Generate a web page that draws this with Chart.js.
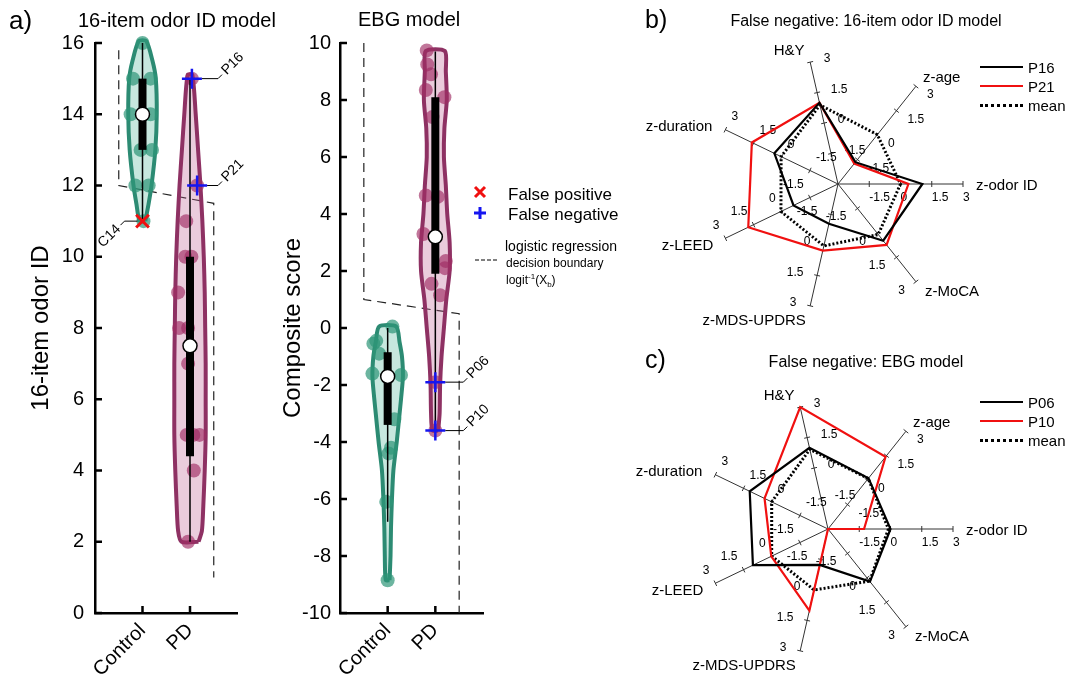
<!DOCTYPE html>
<html>
<head>
<meta charset="utf-8">
<title>Odor ID and EBG models</title>
<script src="https://cdn.jsdelivr.net/npm/chart.js@4.4.1/dist/chart.umd.min.js"></script>
<style>
  body { margin: 0; background: #fff; }
  #fig { position: relative; width: 1065px; height: 688px; overflow: hidden; font-family: 'Liberation Sans', Arial, sans-serif; color: #000; }
  #fig canvas { position: absolute; }
  .txt { position: absolute; white-space: nowrap; line-height: 1; }
  .key { position: absolute; height: 0; width: 43px; left: 980px; }
</style>
</head>
<body>
<div id="fig">
  <canvas id="odorChart" width="250" height="688" style="left:0;top:0"></canvas>
  <canvas id="ebgChart" width="250" height="688" style="left:250px;top:0"></canvas>
  <canvas id="radarB" width="445" height="340" style="left:620px;top:0"></canvas>
  <canvas id="radarC" width="445" height="348" style="left:620px;top:340px"></canvas>

  <div class="txt" style="left:9px;top:7px;font-size:26px">a)</div>
  <div class="txt" style="left:78px;top:10px;font-size:20px">16-item odor ID model</div>
  <div class="txt" style="left:358px;top:9px;font-size:20px">EBG model</div>

  <svg style="position:absolute;left:470px;top:182px" width="30" height="85">
    <path d="M5 5 L15 15 M15 5 L5 15" stroke="#f01010" stroke-width="3"/>
    <path d="M4 31 L16 31 M10 25 L10 37" stroke="#1515f0" stroke-width="3"/>
    <path d="M5 78 L27 78" stroke="#000" stroke-width="1" stroke-dasharray="4,2"/>
  </svg>
  <div class="txt" style="left:508px;top:186px;font-size:17px">False positive</div>
  <div class="txt" style="left:508px;top:206px;font-size:17px">False negative</div>
  <div class="txt" style="left:505px;top:239px;font-size:14px">logistic regression</div>
  <div class="txt" style="left:506px;top:257px;font-size:12px">decision boundary</div>
  <div class="txt" style="left:506px;top:273px;font-size:12px">logit<sup style="font-size:8px">-1</sup>(X<sub style="font-size:8px">b</sub>)</div>

  <div class="txt" style="left:645px;top:7px;font-size:25px">b)</div>
  <div class="txt" style="left:866px;top:13px;font-size:16px;transform:translateX(-50%)">False negative: 16-item odor ID model</div>
  <div class="key" style="top:66px;border-top:2.5px solid #000"></div>
  <div class="key" style="top:85px;border-top:2.5px solid #f01010"></div>
  <div class="key" style="top:104px;border-top:3px dotted #000"></div>
  <div class="txt" style="left:1028px;top:60px;font-size:15px">P16</div>
  <div class="txt" style="left:1028px;top:79px;font-size:15px">P21</div>
  <div class="txt" style="left:1028px;top:98px;font-size:15px">mean</div>

  <div class="txt" style="left:645px;top:347px;font-size:25px">c)</div>
  <div class="txt" style="left:866px;top:354px;font-size:16px;transform:translateX(-50%)">False negative: EBG model</div>
  <div class="key" style="top:401px;border-top:2.5px solid #000"></div>
  <div class="key" style="top:420px;border-top:2.5px solid #f01010"></div>
  <div class="key" style="top:439px;border-top:3px dotted #000"></div>
  <div class="txt" style="left:1028px;top:395px;font-size:15px">P06</div>
  <div class="txt" style="left:1028px;top:414px;font-size:15px">P10</div>
  <div class="txt" style="left:1028px;top:433px;font-size:15px">mean</div>
</div>

<script>
// ---- data ----
const groups = ['Control', 'PD'];

// 16-item odor ID panel
const odorCtrlPts = [16, 15, 15, 14, 14, 13, 13, 12, 12, 11];
const odorCtrlJit = [0, -0.2, 0.17, -0.25, 0.17, -0.04, 0.2, -0.15, 0.13, 0.02];
const odorPdPts = [15, 12, 11, 10, 10, 9, 8, 8, 7, 5, 5, 5, 4, 2];
const odorPdJit = [0.04, 0.15, -0.08, -0.1, 0.03, -0.25, -0.23, -0.04, -0.04, -0.07, 0.07, 0.2, 0.08, -0.04];
const odorCtrlShapeY = [11, 11.5, 12, 13, 14, 15, 15.5, 16.05];
const odorCtrlShapeW = [0.06, 0.13, 0.19, 0.27, 0.3, 0.28, 0.21, 0.08];
const odorPdShapeY = [2, 2.3, 3, 4, 5, 6, 7, 8, 9, 10, 11, 12, 13, 14, 15.1];
const odorPdShapeW = [0.18, 0.25, 0.28, 0.31, 0.33, 0.33, 0.33, 0.32, 0.31, 0.29, 0.26, 0.22, 0.17, 0.12, 0.05];
// [whisker low, q1, median, q3, whisker high]
const odorCtrlBox = [11, 13, 14, 15, 16];
const odorPdBox = [2, 4.4, 7.5, 10, 15];
const odorBoundX = [0.5, 0.5, 2.5, 2.5];
const odorBoundY = [15.8, 12, 11.5, 1];
const odorFpLabels = ['C14'];
const odorFpX = [1.0];
const odorFpY = [11];
const odorFnLabels = ['P16', 'P21'];
const odorFnX = [2.04, 2.15];
const odorFnY = [15, 12];

// EBG composite score panel
const ebgCtrlPts = [0.05, -0.45, -0.55, -0.9, -1.6, -1.65, -1.7, -3.2, -4.2, -4.4, -6.1, -8.85];
const ebgCtrlJit = [0.1, -0.24, -0.3, -0.18, -0.32, 0.28, 0.0, 0.14, 0.07, 0.02, -0.03, 0];
const ebgPdPts = [9.74, 9.25, 8.9, 8.35, 8.1, 7.4, 4.65, 4.6, 3.3, 2.35, 2.1, 1.55, 1.15, -1.9, -3.6];
const ebgPdJit = [-0.18, -0.17, -0.09, -0.2, 0.19, -0.06, -0.2, 0.05, -0.25, 0.22, 0.2, -0.08, 0.1, 0, 0];
const ebgCtrlShapeY = [-8.85, -8, -7, -6, -5, -4, -3, -2.5, -1.7, -1, -0.5, 0.05];
const ebgCtrlShapeW = [0.04, 0.06, 0.07, 0.09, 0.12, 0.19, 0.25, 0.28, 0.32, 0.3, 0.25, 0.18];
const ebgPdShapeY = [-3.6, -3, -2, -1, 0, 1, 2, 3, 4, 5, 6, 7, 8, 9, 9.72];
const ebgPdShapeW = [0.06, 0.09, 0.1, 0.13, 0.18, 0.23, 0.3, 0.3, 0.25, 0.22, 0.18, 0.19, 0.24, 0.22, 0.2];
const ebgCtrlBox = [-6.8, -3.4, -1.7, -0.85, 0];
const ebgPdBox = [-3.6, 1.9, 3.2, 8.1, 9.7];
const ebgBoundX = [0.5, 0.5, 2.5, 2.5];
const ebgBoundY = [10, 1.0, 0.5, -10];
const ebgFpLabels = [];
const ebgFpX = [];
const ebgFpY = [];
const ebgFnLabels = ['P06', 'P10'];
const ebgFnX = [2, 2];
const ebgFnY = [-1.9, -3.6];

// radar panels (axes clockwise from z-odor ID)
const radarAxes = ['z-odor ID', 'z-MoCA', 'z-MDS-UPDRS', 'z-LEED', 'z-duration', 'H&Y', 'z-age'];
const radarTicks = [-1.5, 0, 1.5, 3];
const bP16 = [1.05, 0.48, -1.04, -0.63, 0.39, 1.0, -1.66];
const bP21 = [0.38, 0.74, 0.28, 1.78, 1.59, 1.0, -1.75];
const bMean = [0.0, 0.1, 0.05, 0.04, 0.03, 0.89, 0.03];
const cP06 = [0.0, 0.23, -1.23, 1.0, 1.17, 1.0, 0.12];
const cP10 = [-1.27, -3, 1.02, 0.02, 0.38, 3.0, 1.43];
const cMean = [-0.1, 0.2, 0.0, 0.0, 0.0, 0.92, 0.1];

// ---- style ----
const FONT = "'Liberation Sans', Arial, sans-serif";
Chart.defaults.font.family = FONT;
Chart.defaults.color = '#000';
const colCtrl = {edge: '#2c8b73', fill: 'rgba(70,175,145,0.3)', dot: 'rgba(45,150,120,0.7)'};
const colPd = {edge: '#8e3163', fill: 'rgba(190,95,145,0.32)', dot: 'rgba(160,45,100,0.65)'};

function violinShape(center, ys, ws) {
  const right = ys.map((y, i) => ({x: center + ws[i], y}));
  const left = ys.map((y, i) => ({x: center - ws[i], y})).reverse();
  return right.concat(left, [right[0]]);
}
const xy = (xs, ys) => xs.map((x, i) => ({x, y: ys[i]}));

// inward tick marks on both axes
const innerTicks = {
  id: 'innerTicks',
  afterDraw(chart) {
    const {ctx, chartArea: a, scales: {x, y}} = chart;
    ctx.save();
    ctx.strokeStyle = '#000';
    ctx.lineWidth = 2.5;
    ctx.beginPath();
    y.ticks.forEach(t => {
      const py = y.getPixelForValue(t.value);
      ctx.moveTo(a.left, py); ctx.lineTo(a.left + 7, py);
    });
    x.ticks.forEach(t => {
      const px = x.getPixelForValue(t.value);
      ctx.moveTo(px, a.bottom); ctx.lineTo(px, a.bottom - 7);
    });
    ctx.stroke();
    ctx.restore();
  }
};

// leader lines + rotated subject labels
const markerNotes = {
  id: 'markerNotes',
  afterDatasetsDraw(chart, args, opts) {
    const {ctx, scales: {x, y}} = chart;
    ctx.save();
    ctx.strokeStyle = '#000';
    ctx.fillStyle = '#000';
    ctx.lineWidth = 1;
    ctx.font = '14px ' + FONT;
    ctx.textBaseline = 'middle';
    opts.notes.forEach(n => {
      const px = x.getPixelForValue(n.x), py = y.getPixelForValue(n.y);
      const gx = x.getPixelForValue(Math.round(n.x));
      let x0, x1, x2, y2, tx, ty;
      if (n.side > 0) {
        x0 = px + 10; x1 = gx + 28; x2 = x1 + 4; y2 = py - 4; tx = x2 + 2; ty = y2 - 2;
        ctx.textAlign = 'left';
      } else {
        x0 = px - 5; x1 = gx - 18; x2 = x1 - 4; y2 = py + 4; tx = x2 - 2; ty = y2 + 2;
        ctx.textAlign = 'right';
      }
      ctx.beginPath();
      ctx.moveTo(x0, py); ctx.lineTo(x1, py); ctx.lineTo(x2, y2);
      ctx.stroke();
      ctx.save();
      ctx.translate(tx, ty);
      ctx.rotate(-Math.PI / 4);
      ctx.fillText(n.label, 0, 0);
      ctx.restore();
    });
    ctx.restore();
  }
};

function violinPanel(id, p) {
  const ds = [];
  ds.push({data: xy(p.fpX, p.fpY), pointStyle: 'crossRot', radius: 9, borderColor: '#f01010', borderWidth: 3, order: 0});
  ds.push({data: xy(p.fnX, p.fnY), pointStyle: 'cross', radius: 10, borderColor: '#1515f0', borderWidth: 2.5, order: 0});
  [p.ctrl, p.pd].forEach((g, gi) => {
    const c = gi + 1;
    const b = g.box;
    ds.push({data: [{x: c, y: b[2]}], pointStyle: 'circle', radius: 7, backgroundColor: '#fff', borderColor: '#000', borderWidth: 1.5, order: 1});
    ds.push({data: [{x: c, y: b[1]}, {x: c, y: b[3]}], showLine: true, radius: 0, borderColor: '#000', borderWidth: 8, borderCapStyle: 'butt', order: 2});
    ds.push({data: [{x: c, y: b[0]}, {x: c, y: b[4]}], showLine: true, radius: 0, borderColor: '#000', borderWidth: 1.5, order: 3});
    ds.push({data: g.pts.map((v, i) => ({x: c + g.jit[i], y: v})), radius: 7, backgroundColor: g.col.dot, borderWidth: 0, order: 4});
    ds.push({data: violinShape(c, g.shapeY, g.shapeW), showLine: true, radius: 0, tension: 0.25,
      borderColor: g.col.edge, borderWidth: 4, backgroundColor: g.col.fill, fill: 'shape', order: 5});
  });
  ds.push({data: xy(p.boundX, p.boundY), showLine: true, radius: 0, borderColor: '#222', borderWidth: 1.2, borderDash: [9, 6], order: 6});
  ds.forEach(d => { d.clip = false; });

  const notes = p.fpLabels.map((l, i) => ({label: l, x: p.fpX[i], y: p.fpY[i], side: -1}))
    .concat(p.fnLabels.map((l, i) => ({label: l, x: p.fnX[i], y: p.fnY[i], side: 1})));

  return new Chart(document.getElementById(id), {
    type: 'scatter',
    data: {datasets: ds},
    plugins: [innerTicks, markerNotes],
    options: {
      responsive: false,
      animation: false,
      events: [],
      layout: {padding: {top: 43, right: p.padRight, left: 0, bottom: 0}},
      plugins: {legend: {display: false}, tooltip: {enabled: false}, markerNotes: {notes}},
      scales: {
        x: {
          type: 'linear', min: 0, max: 3,
          afterBuildTicks(s) { s.ticks = groups.map((g, i) => ({value: i + 1})); },
          ticks: {callback: v => groups[v - 1], font: {size: 20}, minRotation: 45, maxRotation: 45, autoSkip: false, padding: 6},
          grid: {display: false, drawTicks: false},
          border: {color: '#000', width: 2.5},
          afterFit(s) { s.height = 75; }
        },
        y: {
          min: p.yMin, max: p.yMax,
          ticks: {stepSize: 2, font: {size: 20}, padding: p.tickPad},
          grid: {display: false, drawTicks: false},
          border: {color: '#000', width: 2.5},
          title: {display: true, text: p.yTitle, font: {size: 24}, padding: {top: p.titlePad, bottom: 0}},
          afterFit(s) { s.width = p.axisWidth; }
        }
      }
    }
  });
}

violinPanel('odorChart', {
  yMin: 0, yMax: 16, yTitle: '16-item odor ID', titlePad: 27, axisWidth: 95, padRight: 12, tickPad: 11,
  ctrl: {pts: odorCtrlPts, jit: odorCtrlJit, shapeY: odorCtrlShapeY, shapeW: odorCtrlShapeW, box: odorCtrlBox, col: colCtrl},
  pd: {pts: odorPdPts, jit: odorPdJit, shapeY: odorPdShapeY, shapeW: odorPdShapeW, box: odorPdBox, col: colPd},
  boundX: odorBoundX, boundY: odorBoundY,
  fpLabels: odorFpLabels, fpX: odorFpX, fpY: odorFpY,
  fnLabels: odorFnLabels, fnX: odorFnX, fnY: odorFnY
});

violinPanel('ebgChart', {
  yMin: -10, yMax: 10, yTitle: 'Composite score', titlePad: 29, axisWidth: 90, padRight: 17, tickPad: 9,
  ctrl: {pts: ebgCtrlPts, jit: ebgCtrlJit, shapeY: ebgCtrlShapeY, shapeW: ebgCtrlShapeW, box: ebgCtrlBox, col: colCtrl},
  pd: {pts: ebgPdPts, jit: ebgPdJit, shapeY: ebgPdShapeY, shapeW: ebgPdShapeW, box: ebgPdBox, col: colPd},
  boundX: ebgBoundX, boundY: ebgBoundY,
  fpLabels: ebgFpLabels, fpX: ebgFpX, fpY: ebgFpY,
  fnLabels: ebgFnLabels, fnX: ebgFnX, fnY: ebgFnY
});

// per-axis tick marks, tick labels and axis names for the radar plots
const nameOffsets = [[13, 2, 'left'], [9, 10, 'left'], [-56, 15, 'center'], [-12, 8, 'right'],
  [-13, -3, 'right'], [-21, -11, 'center'], [7, -8, 'left']];
const radarDecor = {
  id: 'radarDecor',
  beforeDatasetsDraw(chart) {
    const r = chart.scales.r, ctx = chart.ctx;
    ctx.save();
    ctx.strokeStyle = '#333';
    ctx.fillStyle = '#000';
    ctx.lineWidth = 1;
    ctx.textBaseline = 'middle';
    chart.data.labels.forEach((name, i) => {
      const a = r.getIndexAngle(i) - Math.PI / 2;
      const nx = -Math.sin(a), ny = Math.cos(a);
      ctx.font = '12px ' + FONT;
      ctx.textAlign = nx >= -0.01 ? 'left' : 'right';
      radarTicks.forEach(v => {
        const pt = r.getPointPositionForValue(i, v);
        ctx.beginPath();
        ctx.moveTo(pt.x - 3 * nx, pt.y - 3 * ny);
        ctx.lineTo(pt.x + 3 * nx, pt.y + 3 * ny);
        ctx.stroke();
        ctx.fillText(String(v), pt.x + 14 * nx, pt.y + 14 * ny);
      });
      const end = r.getPointPositionForValue(i, 3);
      const o = nameOffsets[i];
      ctx.font = '15px ' + FONT;
      ctx.textAlign = o[2];
      ctx.fillText(name, end.x + o[0], end.y + o[1]);
    });
    ctx.restore();
  }
};

function radarPanel(id, series, names, pad) {
  const styles = [
    {borderColor: '#000', borderWidth: 2.2},
    {borderColor: '#f01010', borderWidth: 2.2},
    {borderColor: '#000', borderWidth: 3, borderDash: [2, 2]}
  ];
  return new Chart(document.getElementById(id), {
    type: 'radar',
    data: {
      labels: radarAxes,
      datasets: series.map((s, i) => Object.assign({label: names[i], data: s, fill: false, pointRadius: 0, clip: false}, styles[i]))
    },
    plugins: [radarDecor],
    options: {
      responsive: false,
      animation: false,
      events: [],
      layout: {padding: pad},
      elements: {line: {tension: 0}},
      plugins: {legend: {display: false}, tooltip: {enabled: false}},
      scales: {
        r: {
          min: -3, max: 3, startAngle: 90,
          ticks: {display: false, stepSize: 1.5},
          grid: {display: false},
          angleLines: {color: '#333', lineWidth: 1},
          pointLabels: {display: false}
        }
      }
    }
  });
}

radarPanel('radarB', [bP16, bP21, bMean], ['P16', 'P21', 'mean'], {left: 93, right: 102, top: 59, bottom: 31});
radarPanel('radarC', [cP06, cP10, cMean], ['P06', 'P10', 'mean'], {left: 83, right: 112, top: 64, bottom: 34});
</script>
</body>
</html>
